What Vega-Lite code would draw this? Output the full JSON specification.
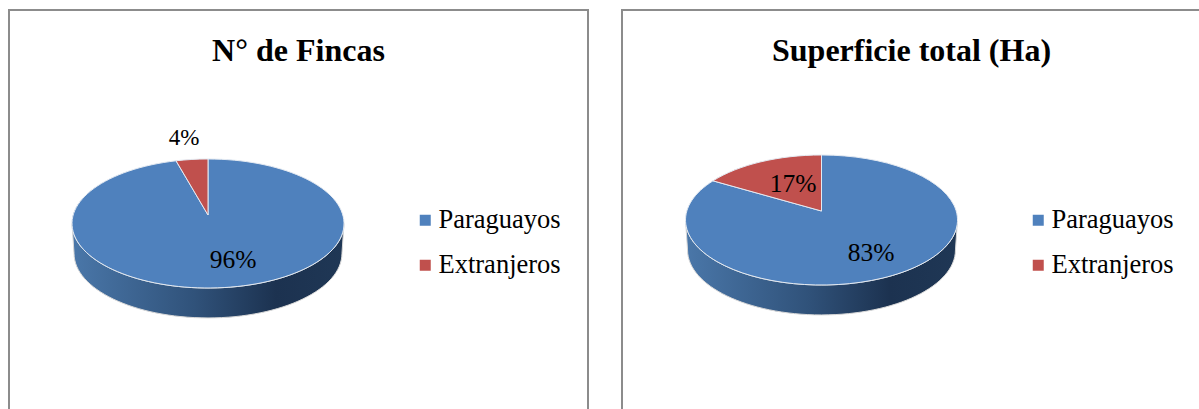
{
"$schema":"https://vega.github.io/schema/vega-lite/v6.json",
"padding":{"left":8,"top":9,"right":0,"bottom":0},
"background":"white",
"spacing":32,
"config":{"view":{"stroke":"#8c8c8c","strokeWidth":2},"font":"Liberation Serif"},
"hconcat":[
{"width":579,"height":400,
 "title":{"text":"N° de Fincas","font":"Liberation Serif","fontSize":32,"fontWeight":"bold","color":"black","anchor":"middle","frame":"group","offset":-83,"baseline":"alphabetic"},
 "data":{"values":[{"grupo":"Paraguayos","sector":"a","porcentaje":0.96},{"grupo":"Extranjeros","sector":"b","porcentaje":0.04}]},
 "encoding":{
  "x":{"datum":0,"type":"quantitative","scale":{"domain":[-199,380],"nice":false,"zero":false},"axis":null},
  "y":{"datum":0,"type":"quantitative","scale":{"domain":[-186.5,213.5],"nice":false,"zero":false},"axis":null}},
 "layer":[
  {"transform":[{"filter":"datum.grupo==='Paraguayos'"}],
   "mark":{"type":"point","filled":true,"size":73984,"opacity":1,"stroke":"#d8d8d8","strokeWidth":1,
    "shape":"M-1,0 L-.985,.22 A.985,.4743 0 0 0 .985,.22 L1,0 A1,.4743 0 0 1 -1,0 Z",
    "fill":{"gradient":"linear","x1":0,"x2":1,"y1":0,"y2":0,"stops":[{"offset":0,"color":"#4a77a9"},{"offset":0.45,"color":"#30527a"},{"offset":0.75,"color":"#1c3250"},{"offset":1,"color":"#1f3755"}]}}},
  {"mark":{"type":"point","filled":true,"size":73984,"opacity":1,"stroke":"#e4eaf2","strokeWidth":1},
   "encoding":{
    "color":{"field":"grupo","type":"nominal","scale":{"domain":["Paraguayos","Extranjeros"],"range":["#4f81bd","#c0504d"]},
     "legend":{"title":null,"orient":"none","legendX":403,"legendY":197,"symbolType":"square","symbolSize":121,"labelFont":"Liberation Serif","labelFontSize":26.5,"labelColor":"black","rowPadding":18,"labelOffset":0,"labelLimit":300,"symbolStrokeWidth":0}},
    "shape":{"field":"sector","type":"nominal","legend":null,"scale":{"domain":["a","b"],"range":[
     "M0,-.0625 L0,-.4743 A1,.4743 0 1 1 -.235,-.461 Z",
     "M0,-.0625 L-.235,-.461 A1,.4743 0 0 1 0,-.4743 Z"]}}}},
  {"transform":[{"filter":"datum.grupo==='Paraguayos'"}],
   "mark":{"type":"text","font":"Liberation Serif","fontSize":25.5,"color":"black","dx":25,"dy":36,"align":"center","baseline":"middle"},
   "encoding":{"text":{"field":"porcentaje","type":"quantitative","format":".0%"}}},
  {"transform":[{"filter":"datum.grupo==='Extranjeros'"}],
   "mark":{"type":"text","font":"Liberation Serif","fontSize":23,"color":"black","dx":-24,"dy":-85.5,"align":"center","baseline":"middle"},
   "encoding":{"text":{"field":"porcentaje","type":"quantitative","format":".0%"}}}
 ]},
{"width":579,"height":400,
 "title":{"text":"Superficie total (Ha)","font":"Liberation Serif","fontSize":32,"fontWeight":"bold","color":"black","anchor":"middle","frame":"group","offset":-83,"baseline":"alphabetic"},
 "data":{"values":[{"grupo":"Paraguayos","sector":"a","porcentaje":0.83},{"grupo":"Extranjeros","sector":"b","porcentaje":0.17}]},
 "encoding":{
  "x":{"datum":0,"type":"quantitative","scale":{"domain":[-199.5,379.5],"nice":false,"zero":false},"axis":null},
  "y":{"datum":0,"type":"quantitative","scale":{"domain":[-190,210],"nice":false,"zero":false},"axis":null}},
 "layer":[
  {"transform":[{"filter":"datum.grupo==='Paraguayos'"}],
   "mark":{"type":"point","filled":true,"size":73984,"opacity":1,"stroke":"#d8d8d8","strokeWidth":1,
    "shape":"M-1,0 L-.985,.22 A.985,.478 0 0 0 .985,.22 L1,0 A1,.478 0 0 1 -1,0 Z",
    "fill":{"gradient":"linear","x1":0,"x2":1,"y1":0,"y2":0,"stops":[{"offset":0,"color":"#4a77a9"},{"offset":0.45,"color":"#30527a"},{"offset":0.75,"color":"#1c3250"},{"offset":1,"color":"#1f3755"}]}}},
  {"mark":{"type":"point","filled":true,"size":73984,"opacity":1,"stroke":"#e4eaf2","strokeWidth":1},
   "encoding":{
    "color":{"field":"grupo","type":"nominal","scale":{"domain":["Paraguayos","Extranjeros"],"range":["#4f81bd","#c0504d"]},
     "legend":{"title":null,"orient":"none","legendX":403,"legendY":197,"symbolType":"square","symbolSize":121,"labelFont":"Liberation Serif","labelFontSize":26.5,"labelColor":"black","rowPadding":18,"labelOffset":0,"labelLimit":300,"symbolStrokeWidth":0}},
    "shape":{"field":"sector","type":"nominal","legend":null,"scale":{"domain":["a","b"],"range":[
     "M0,-.066 L0,-.478 A1,.478 0 1 1 -.798,-.288 Z",
     "M0,-.066 L-.798,-.288 A1,.478 0 0 1 0,-.478 Z"]}}}},
  {"transform":[{"filter":"datum.grupo==='Paraguayos'"}],
   "mark":{"type":"text","font":"Liberation Serif","fontSize":25.5,"color":"black","dx":49.5,"dy":33,"align":"center","baseline":"middle"},
   "encoding":{"text":{"field":"porcentaje","type":"quantitative","format":".0%"}}},
  {"transform":[{"filter":"datum.grupo==='Extranjeros'"}],
   "mark":{"type":"text","font":"Liberation Serif","fontSize":25.5,"color":"black","dx":-28.5,"dy":-36,"align":"center","baseline":"middle"},
   "encoding":{"text":{"field":"porcentaje","type":"quantitative","format":".0%"}}}
 ]}
],
"resolve":{"scale":{"color":"independent","shape":"independent","x":"independent","y":"independent"}}
}
